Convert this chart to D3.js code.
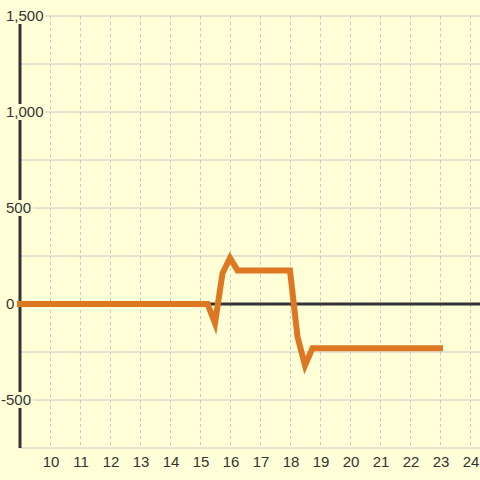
<!DOCTYPE html>
<html>
<head>
<meta charset="utf-8">
<script src="https://cdn.jsdelivr.net/npm/d3@7"></script>
<style>
  html, body { margin: 0; padding: 0; background: #ffffd8; }
  svg { display: block; font-family: "Liberation Sans", Arial, sans-serif; }
</style>
</head>
<body>
<div id="chart"></div>
<script>
// data (hour of day -> value)
const hours = [9, 15.25, 15.5, 15.75, 16, 16.25, 18, 18.25, 18.5, 18.75, 23];
const values = [0, 0, -100, 160, 240, 175, 175, -170, -320, -230, -230];
const xTicks = [10, 11, 12, 13, 14, 15, 16, 17, 18, 19, 20, 21, 22, 23, 24];
const yTicks = [-500, 0, 500, 1000, 1500];
const yGrid = [-750, -500, -250, 250, 500, 750, 1000, 1250, 1500];

const width = 480, height = 480;
const bg = '#ffffd8';

const svg = d3.select('#chart').append('svg')
    .attr('width', width)
    .attr('height', height);

svg.append('rect').attr('width', width).attr('height', height).attr('fill', bg);

const x = d3.scaleLinear().domain([9, 24]).range([20, 470]);
const y = d3.scaleLinear().domain([-750, 1500]).range([448, 16]);

// horizontal grid
svg.append('g').selectAll('line')
    .data(yGrid)
    .enter().append('line')
    .attr('x1', 20).attr('x2', width)
    .attr('y1', d => y(d)).attr('y2', d => y(d))
    .attr('stroke', '#c8c8c8')
    .attr('stroke-width', 1);

// vertical dotted grid
svg.append('g').selectAll('line')
    .data(xTicks)
    .enter().append('line')
    .attr('x1', d => Math.round(x(d)) + 0.5).attr('x2', d => Math.round(x(d)) + 0.5)
    .attr('y1', y(1500)).attr('y2', y(-750))
    .attr('stroke', '#c8c8c8')
    .attr('stroke-width', 1)
    .attr('stroke-dasharray', '3,3');

// y axis line
svg.append('line')
    .attr('x1', x(9)).attr('x2', x(9))
    .attr('y1', 24).attr('y2', y(-750))
    .attr('stroke', '#333')
    .attr('stroke-width', 3);

// zero line
svg.append('line')
    .attr('x1', x(9)).attr('x2', width)
    .attr('y1', y(0)).attr('y2', y(0))
    .attr('stroke', '#333')
    .attr('stroke-width', 3);

// y labels with background boxes
const fmt = d3.format(',');
const yLab = svg.append('g').selectAll('g')
    .data(yTicks)
    .enter().append('g')
    .attr('transform', d => `translate(${d < 0 ? 1 : 6},${y(d)})`);

yLab.each(function(d) {
    const g = d3.select(this);
    const t = g.append('text')
        .attr('dy', '0.35em')
        .attr('font-size', 15)
        .attr('fill', '#333')
        .text(fmt(d).replace('−', '-'));
    const b = t.node().getBBox();
    g.insert('rect', 'text')
        .attr('x', b.x - 2).attr('y', -8)
        .attr('width', b.width + 4).attr('height', 16)
        .attr('fill', bg);
});

// x labels
svg.append('g').selectAll('text')
    .data(xTicks)
    .enter().append('text')
    .attr('x', d => x(d) + 1)
    .attr('y', 467)
    .attr('text-anchor', 'middle')
    .attr('font-size', 15)
    .attr('fill', '#333')
    .text(d => d);

// series line
const line = d3.line()
    .x((d, i) => x(hours[i]))
    .y(d => y(d));

svg.append('path')
    .datum(values)
    .attr('d', line)
    .attr('fill', 'none')
    .attr('stroke', '#dd7722')
    .attr('stroke-width', 6)
    .attr('stroke-linejoin', 'miter')
    .attr('stroke-linecap', 'square');
</script>
</body>
</html>
